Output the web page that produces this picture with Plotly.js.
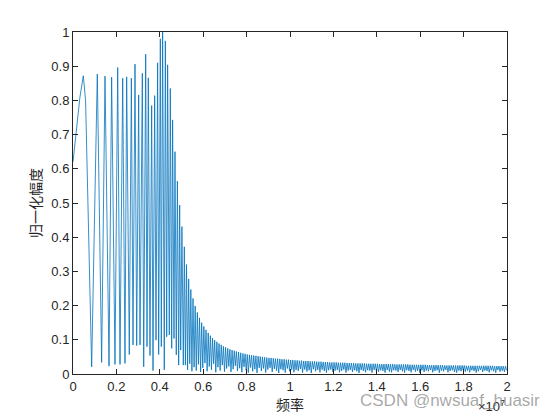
<!DOCTYPE html>
<html>
<head>
<meta charset="utf-8">
<script src="https://cdn.plot.ly/plotly-3.0.1.min.js"></script>
<style>html,body{margin:0;padding:0;background:#fff;}#chart{width:560px;height:420px;}</style>
</head>
<body>
<div id="chart"></div>
<script>
// Frequency in units of 1e7 Hz, normalized amplitude
const freqHead = [0,0.008,0.017,0.032,0.0475,0.058,
  0.086,0.112,0.132,0.1475,0.166,0.178,0.1935,0.206,0.2166,0.229,
  0.2396,0.2473,0.2594,0.269,0.2765,0.2857,0.2935,0.3026,0.3088,0.3195,
  0.3258,0.335,0.341,0.347,0.3548,0.3625,0.3687,0.3763,0.3825,0.390,
  0.3948,0.4025,0.4069,0.413,0.4207,0.4255,0.4318,0.436,0.4438,0.4485,
  0.4548,0.459,0.4654,0.470,0.4760,0.481,0.4870,0.4915,0.4963,0.502,
  0.5083,0.513];
const ampHead = [0.62,0.665,0.71,0.81,0.872,0.80,
  0.021,0.877,0.034,0.871,0.023,0.868,0.028,0.896,0.028,0.865,
  0.031,0.869,0.057,0.865,0.085,0.906,0.083,0.816,0.085,0.879,
  0.021,0.935,0.080,0.866,0.054,0.785,0.010,0.814,0.099,0.910,
  0.057,0.980,0.080,1.0,0.012,0.974,0.109,0.904,0.114,0.835,
  0.075,0.743,0.104,0.650,0.056,0.564,0.026,0.494,0.070,0.431,
  0.026,0.372];

const freqTail = [
  0.518,0.523,0.528,0.533,0.538,0.543,0.548,0.553,0.558,0.563,
  0.568,0.573,0.578,0.583,0.588,0.593,0.598,0.603,0.608,0.613,
  0.618,0.623,0.628,0.633,0.638,0.643,0.648,0.653,0.658,0.663,
  0.668,0.673,0.678,0.683,0.688,0.693,0.698,0.703,0.708,0.713,
  0.718,0.723,0.728,0.733,0.738,0.743,0.748,0.753,0.758,0.763,
  0.768,0.773,0.778,0.783,0.788,0.793,0.798,0.803,0.808,0.813,
  0.818,0.823,0.828,0.833,0.838,0.843,0.848,0.853,0.858,0.863,
  0.868,0.873,0.878,0.883,0.888,0.893,0.898,0.903,0.908,0.913,
  0.918,0.923,0.928,0.933,0.938,0.943,0.948,0.953,0.958,0.963,
  0.968,0.973,0.978,0.983,0.988,0.993,0.998,1.003,1.008,1.013,
  1.018,1.023,1.028,1.033,1.038,1.043,1.048,1.053,1.058,1.063,
  1.068,1.073,1.078,1.083,1.088,1.093,1.098,1.103,1.108,1.113,
  1.118,1.123,1.128,1.133,1.138,1.143,1.148,1.153,1.158,1.163,
  1.168,1.173,1.178,1.183,1.188,1.193,1.198,1.203,1.208,1.213,
  1.218,1.223,1.228,1.233,1.238,1.243,1.248,1.253,1.258,1.263,
  1.268,1.273,1.278,1.283,1.288,1.293,1.298,1.303,1.308,1.313,
  1.318,1.323,1.328,1.333,1.338,1.343,1.348,1.353,1.358,1.363,
  1.368,1.373,1.378,1.383,1.388,1.393,1.398,1.403,1.408,1.413,
  1.418,1.423,1.428,1.433,1.438,1.443,1.448,1.453,1.458,1.463,
  1.468,1.473,1.478,1.483,1.488,1.493,1.498,1.503,1.508,1.513,
  1.518,1.523,1.528,1.533,1.538,1.543,1.548,1.553,1.558,1.563,
  1.568,1.573,1.578,1.583,1.588,1.593,1.598,1.603,1.608,1.613,
  1.618,1.623,1.628,1.633,1.638,1.643,1.648,1.653,1.658,1.663,
  1.668,1.673,1.678,1.683,1.688,1.693,1.698,1.703,1.708,1.713,
  1.718,1.723,1.728,1.733,1.738,1.743,1.748,1.753,1.758,1.763,
  1.768,1.773,1.778,1.783,1.788,1.793,1.798,1.803,1.808,1.813,
  1.818,1.823,1.828,1.833,1.838,1.843,1.848,1.853,1.858,1.863,
  1.868,1.873,1.878,1.883,1.888,1.893,1.898,1.903,1.908,1.913,
  1.918,1.923,1.928,1.933,1.938,1.943,1.948,1.953,1.958,1.963,
  1.968,1.973,1.978,1.983,1.988,1.993,1.998];
const ampTail = [
  0.026,0.320,0.012,0.278,0.030,0.247,0.008,0.221,0.020,0.199,
  0.010,0.180,0.028,0.164,0.006,0.150,0.018,0.139,0.032,0.129,
  0.008,0.120,0.022,0.112,0.012,0.105,0.030,0.099,0.005,0.094,
  0.020,0.089,0.010,0.085,0.026,0.081,0.007,0.078,0.016,0.075,
  0.022,0.072,0.006,0.070,0.014,0.068,0.024,0.066,0.009,0.064,
  0.017,0.062,0.005,0.060,0.021,0.059,0.011,0.057,0.004,0.056,
  0.019,0.055,0.008,0.054,0.014,0.053,0.003,0.052,0.018,0.051,
  0.009,0.050,0.016,0.049,0.004,0.048,0.013,0.047,0.018,0.047,
  0.006,0.046,0.015,0.045,0.010,0.045,0.003,0.044,0.014,0.043,
  0.011,0.043,0.004,0.042,0.016,0.042,0.008,0.041,0.013,0.041,
  0.005,0.040,0.012,0.040,0.009,0.039,0.015,0.039,0.004,0.038,
  0.013,0.038,0.007,0.038,0.011,0.037,0.003,0.037,0.014,0.037,
  0.008,0.036,0.012,0.036,0.005,0.036,0.013,0.035,0.009,0.035,
  0.004,0.035,0.011,0.034,0.013,0.034,0.006,0.034,0.010,0.034,
  0.012,0.033,0.005,0.033,0.009,0.033,0.013,0.033,0.004,0.032,
  0.010,0.032,0.012,0.032,0.006,0.032,0.011,0.031,0.008,0.031,
  0.003,0.031,0.012,0.031,0.009,0.031,0.005,0.030,0.011,0.030,
  0.010,0.030,0.004,0.030,0.012,0.030,0.008,0.030,0.006,0.029,
  0.011,0.029,0.009,0.029,0.004,0.029,0.012,0.029,0.007,0.029,
  0.005,0.029,0.011,0.028,0.010,0.028,0.006,0.028,0.012,0.028,
  0.008,0.028,0.004,0.028,0.011,0.028,0.009,0.027,0.005,0.027,
  0.012,0.027,0.007,0.027,0.010,0.027,0.004,0.027,0.011,0.027,
  0.006,0.027,0.010,0.026,0.008,0.026,0.012,0.026,0.005,0.026,
  0.009,0.026,0.011,0.026,0.004,0.026,0.010,0.026,0.008,0.025,
  0.012,0.025,0.005,0.025,0.009,0.025,0.011,0.025,0.006,0.025,
  0.004,0.025,0.010,0.025,0.008,0.025,0.012,0.025,0.007,0.024,
  0.010,0.024,0.005,0.024,0.011,0.024,0.009,0.024,0.004,0.024,
  0.008,0.024,0.012,0.024,0.006,0.024,0.010,0.024,0.009,0.024,
  0.005,0.024,0.011,0.024,0.008,0.023,0.004,0.023,0.012,0.023,
  0.007,0.023,0.010,0.023,0.006,0.023,0.011];

const xTickVals = [0,0.2,0.4,0.6,0.8,1,1.2,1.4,1.6,1.8,2];
const xTickText = ['0','0.2','0.4','0.6','0.8','1','1.2','1.4','1.6','1.8','2'];
const yTickVals = [0,0.1,0.2,0.3,0.4,0.5,0.6,0.7,0.8,0.9,1];
const yTickText = ['0','0.1','0.2','0.3','0.4','0.5','0.6','0.7','0.8','0.9','1'];

const freq = freqHead.concat(freqTail);
const amp = ampHead.concat(ampTail);

const axisCommon = {
  showline: true, linecolor: '#262626', linewidth: 1, mirror: 'ticks',
  ticks: 'inside', ticklen: 5, tickwidth: 1, tickcolor: '#262626',
  showgrid: false, zeroline: false, fixedrange: true,
  tickfont: {family: 'Liberation Sans, Arial, sans-serif', size: 13, color: '#262626'}
};

const data = [{
  x: freq, y: amp, type: 'scatter', mode: 'lines',
  line: {color: '#0072BD', width: 0.8}, hoverinfo: 'skip'
}];

const layout = {
  width: 560, height: 420,
  margin: {l: 73, r: 53, t: 32, b: 46, pad: 0},
  paper_bgcolor: '#ffffff', plot_bgcolor: '#ffffff',
  showlegend: false,
  font: {family: 'Liberation Sans, Arial, sans-serif', size: 13, color: '#262626'},
  xaxis: Object.assign({}, axisCommon, {
    range: [0, 2], tickmode: 'array', tickvals: xTickVals, ticktext: xTickText,
    title: {text: '频率', font: {family: 'Noto Sans CJK SC', size: 14, color: '#262626'}, standoff: 4}
  }),
  yaxis: Object.assign({}, axisCommon, {
    range: [0, 1], tickmode: 'array', tickvals: yTickVals, ticktext: yTickText,
    title: {text: '归一化幅度', font: {family: 'Noto Sans CJK SC', size: 14, color: '#262626'}, standoff: 6}
  }),
  annotations: [
    {xref: 'paper', yref: 'paper', x: 1.0, y: -0.095, xanchor: 'right', yanchor: 'middle',
     text: '×10<sup>7</sup>', showarrow: false,
     font: {family: 'Liberation Sans, Arial, sans-serif', size: 13, color: '#262626'}},
    {xref: 'paper', yref: 'paper', x: 0.869, y: -0.078, xanchor: 'center', yanchor: 'middle',
     text: 'CSDN @nwsuaf_huasir', showarrow: false,
     font: {family: 'Liberation Sans, Arial, sans-serif', size: 17, color: 'rgba(140,140,140,0.75)'}}
  ]
};

Plotly.newPlot('chart', data, layout, {staticPlot: true, displayModeBar: false});
</script>
</body>
</html>
